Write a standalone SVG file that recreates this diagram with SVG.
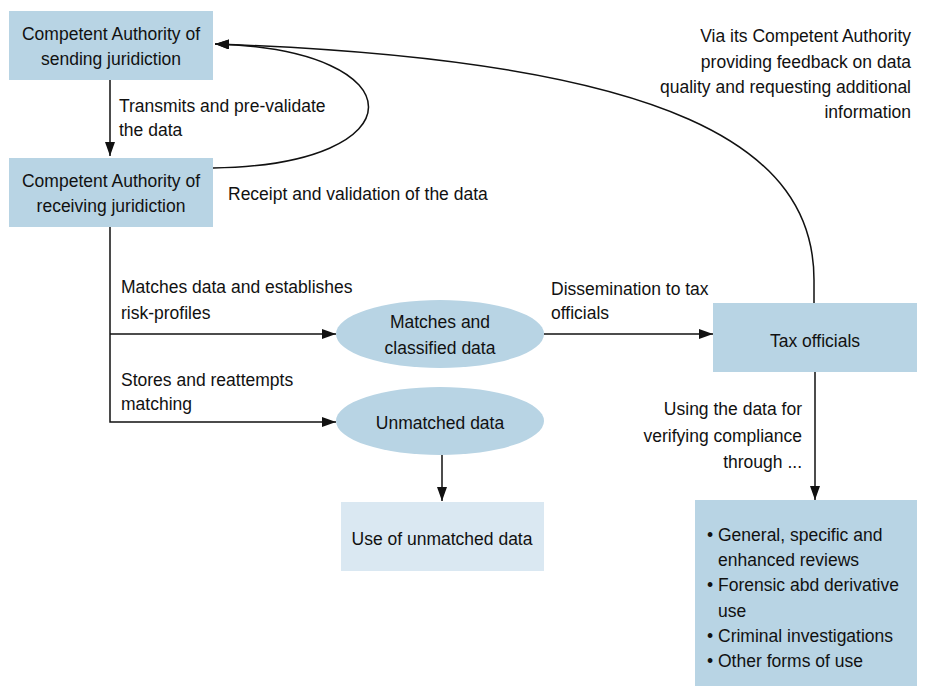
<svg xmlns="http://www.w3.org/2000/svg" width="928" height="686" viewBox="0 0 928 686">
<style>
text{font-family:"Liberation Sans",Arial,sans-serif;font-size:17.5px;fill:#111}
.box{fill:#b8d4e4}
.light{fill:#dae8f2}
.c{text-anchor:middle}
.r{text-anchor:end}
.ln{fill:none;stroke:#111;stroke-width:1.5}
</style>
<defs>
<marker id="ah" markerWidth="14" markerHeight="10" refX="14" refY="5" orient="auto" markerUnits="userSpaceOnUse">
<path d="M0,0 L14,5 L0,10 Z" fill="#111"/>
</marker>
</defs>
<rect width="928" height="686" fill="#fff"/>
<g id="sending">
<rect class="box" x="9" y="11" width="204" height="69"/>
<text class="c" x="111" y="40">Competent Authority of</text>
<text class="c" x="111" y="65">sending juridiction</text>
</g>
<g id="receiving">
<rect class="box" x="9" y="158" width="204" height="69"/>
<text class="c" x="111" y="187">Competent Authority of</text>
<text class="c" x="111" y="212">receiving juridiction</text>
</g>
<g id="matches">
<ellipse class="box" cx="440" cy="334" rx="104" ry="34"/>
<text class="c" x="440" y="328">Matches and</text>
<text class="c" x="440" y="354">classified data</text>
</g>
<g id="unmatched">
<ellipse class="box" cx="440" cy="421" rx="104" ry="34"/>
<text class="c" x="440" y="429">Unmatched data</text>
</g>
<g id="use-unmatched">
<rect class="light" x="341" y="502" width="203" height="69"/>
<text class="c" x="442" y="545">Use of unmatched data</text>
</g>
<g id="tax">
<rect class="box" x="713" y="303" width="204" height="69"/>
<text class="c" x="815" y="347">Tax officials</text>
</g>
<g id="uses">
<rect class="box" x="695" y="500" width="222" height="186"/>
<text x="707" y="541">•</text><text x="718" y="541">General, specific and</text>
<text x="718" y="566">enhanced reviews</text>
<text x="707" y="591">•</text><text x="718" y="591">Forensic abd derivative</text>
<text x="718" y="617">use</text>
<text x="707" y="642">•</text><text x="718" y="642">Criminal investigations</text>
<text x="707" y="667">•</text><text x="718" y="667">Other forms of use</text>
</g>
<g id="connectors">
<path class="ln" d="M110,80 L110,156" marker-end="url(#ah)"/>
<path class="ln" d="M213,168 C420,165 420,50 215,44" marker-end="url(#ah)"/>
<path class="ln" d="M814,303 L814,280 C814,150 680,60 215,44" marker-end="url(#ah)"/>
<path class="ln" d="M110,227 L110,422 L336,422" marker-end="url(#ah)"/>
<path class="ln" d="M110,334 L336,334" marker-end="url(#ah)"/>
<path class="ln" d="M544,334 L713,334" marker-end="url(#ah)"/>
<path class="ln" d="M442,455 L442,501" marker-end="url(#ah)"/>
<path class="ln" d="M815,372 L815,500" marker-end="url(#ah)"/>
</g>
<g id="labels">
<text x="119" y="112">Transmits and pre-validate</text>
<text x="119" y="136">the data</text>
<text x="228" y="200">Receipt and validation of the data</text>
<text class="r" x="911" y="42">Via its Competent Authority</text>
<text class="r" x="911" y="68">providing feedback on data</text>
<text class="r" x="911" y="93">quality and requesting additional</text>
<text class="r" x="911" y="118">information</text>
<text x="121" y="293">Matches data and establishes</text>
<text x="121" y="319">risk-profiles</text>
<text x="121" y="386">Stores and reattempts</text>
<text x="121" y="410">matching</text>
<text x="551" y="295">Dissemination to tax</text>
<text x="551" y="319">officials</text>
<text class="r" x="802" y="415">Using the data for</text>
<text class="r" x="802" y="442">verifying compliance</text>
<text class="r" x="802" y="468">through ...</text>
</g>
</svg>
